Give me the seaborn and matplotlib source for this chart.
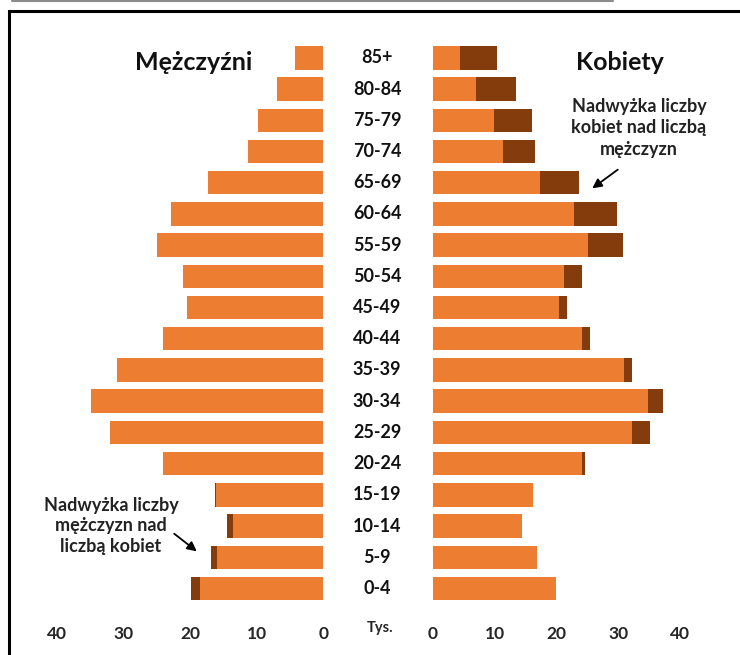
import numpy as np
import pandas as pd
import seaborn as sns
import matplotlib.pyplot as plt
from matplotlib.patches import Rectangle
from matplotlib.transforms import blended_transform_factory

ages = ['85+', '80-84', '75-79', '70-74', '65-69', '60-64', '55-59', '50-54', '45-49',
        '40-44', '35-39', '30-34', '25-29', '20-24', '15-19', '10-14', '5-9', '0-4']

# men (left side): total and excess over women, thousands
men = [4.3, 7.0, 9.8, 11.3, 17.3, 22.8, 25.0, 21.1, 20.4,
       24.0, 31.0, 34.9, 32.0, 24.0, 16.2, 14.4, 16.8, 19.9]
men_excess = [0, 0, 0, 0, 0, 0, 0, 0, 0,
              0, 0, 0, 0, 0, 0.15, 0.9, 0.9, 1.4]

# women (right side): total and excess over men
women = [10.4, 13.5, 16.1, 16.6, 23.6, 29.9, 30.8, 24.1, 21.8,
         25.5, 32.2, 37.2, 35.1, 24.7, 16.3, 14.5, 16.8, 20.0]
women_excess = [6.0, 6.5, 6.2, 5.2, 6.2, 7.0, 5.6, 2.8, 1.3,
                1.3, 1.2, 2.4, 2.8, 0.5, 0, 0, 0, 0]

ticks = [0, 10, 20, 30, 40]

orange = '#ED7D31'
dark = '#843C0C'

sns.set_style('white')
plt.rcParams['font.family'] = ['Lato', 'DejaVu Sans']
plt.rcParams['font.weight'] = 'bold'

df = pd.DataFrame({'age': ages, 'men': men, 'women': women})
df['men_base'] = df['men'] - np.array(men_excess)
df['women_base'] = df['women'] - np.array(women_excess)

W, H = 740, 655
fig = plt.figure(figsize=(7.4, 6.55), dpi=100)
ax_l = fig.add_axes([30 / W, 1 - 612 / H, 293.3 / W, 582 / H])
ax_r = fig.add_axes([432.7 / W, 1 - 612 / H, 277.3 / W, 582 / H])

bar_kw = dict(y='age', order=ages, width=0.75, saturation=1, linewidth=0)
sns.barplot(data=df, x='men', color=dark, ax=ax_l, **bar_kw)
sns.barplot(data=df, x='men_base', color=orange, ax=ax_l, **bar_kw)
sns.barplot(data=df, x='women', color=dark, ax=ax_r, **bar_kw)
sns.barplot(data=df, x='women_base', color=orange, ax=ax_r, **bar_kw)

ax_l.set_xlim(44, 0)
ax_r.set_xlim(0, 44.87)
for ax in (ax_l, ax_r):
    ax.set_ylim(17.755, -0.893)
    ax.set_xticks(ticks)
    ax.set_xticklabels([str(t) for t in ticks], fontsize=12.5, fontweight='bold')
    ax.tick_params(axis='x', length=0, pad=10)
    ax.set_yticks([])
    ax.set_xlabel('')
    ax.set_ylabel('')
    for s in ax.spines.values():
        s.set_visible(False)

# age group labels in the gap between the halves
tr = blended_transform_factory(fig.transFigure, ax_r.transData)
for i, a in enumerate(ages):
    ax_r.text(377 / W, i, a, transform=tr, ha='center', va='center',
              fontsize=13, fontweight='bold', color='#111111')

fig.text(380 / W, 1 - 628 / H, 'Tys.', ha='center', va='center', fontsize=10.5,
         fontweight='bold')
fig.text(194 / W, 1 - 63 / H, 'Mężczyźni', ha='center', va='center', fontsize=18,
         fontweight='bold', color='#111111')
fig.text(620 / W, 1 - 62 / H, 'Kobiety', ha='center', va='center', fontsize=18,
         fontweight='bold', color='#111111')

fig.text(639 / W, 1 - 128 / H, 'Nadwyżka liczby\nkobiet nad liczbą\nmężczyzn',
         ha='center', va='center', fontsize=13, fontweight='bold', linespacing=1.3,
         color='#222222')
fig.text(111 / W, 1 - 526 / H, 'Nadwyżka liczby\nmężczyzn nad\nliczbą kobiet',
         ha='center', va='center', fontsize=13, fontweight='bold', linespacing=1.25,
         color='#222222')

arrow = dict(arrowstyle='-|>', color='black', lw=1.3, mutation_scale=14)
fig.add_artist(plt.Annotation('', xy=(590 / W, 1 - 190 / H), xytext=(620 / W, 1 - 168 / H),
                              xycoords='figure fraction', textcoords='figure fraction',
                              arrowprops=arrow))
fig.add_artist(plt.Annotation('', xy=(199 / W, 1 - 553 / H), xytext=(172 / W, 1 - 532 / H),
                              xycoords='figure fraction', textcoords='figure fraction',
                              arrowprops=arrow))

# frame of the original picture, cut by the edges
fig.add_artist(Rectangle((9 / W, -0.1), 1.2, 1.1 - 11 / H, transform=fig.transFigure,
                         fill=False, edgecolor='black', lw=2.2))
fig.add_artist(plt.Line2D([12 / W, 613 / W], [1 - 1 / H, 1 - 1 / H], transform=fig.transFigure,
                          color='#8c8c8c', lw=1.5))

plt.savefig('out.png', dpi=100)
